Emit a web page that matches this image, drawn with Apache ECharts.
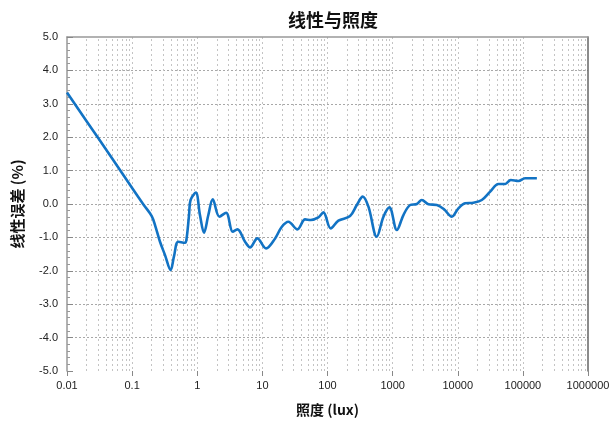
<!DOCTYPE html>
<html>
<head>
<meta charset="utf-8">
<script src="https://cdn.jsdelivr.net/npm/echarts@6/dist/echarts.min.js"></script>
<style>
  html, body { margin: 0; padding: 0; background: #fff; }
  #chart { width: 613px; height: 425px; }
</style>
</head>
<body>
<div id="chart"></div>
<script>
// Illuminance (lux) and the linearity error (%) measured at each level
const illuminance = [
  0.01, 0.02, 0.05, 0.1, 0.15, 0.2, 0.227, 0.268, 0.32, 0.39, 0.44, 0.51, 0.65,
  0.687, 0.748, 0.79, 0.95, 1.10, 1.27, 1.48, 1.73, 2.19, 2.77, 3.51, 4.13,
  5.42, 6.47, 8.37, 11.4, 15.7, 19.9, 25.1, 34.5, 45.3, 55.3, 72.4, 86.5,
  112, 147, 222, 282, 348, 425, 571, 723, 893, 1161, 1466, 1858, 2355, 2805,
  3548, 4775, 6100, 8110, 10230, 13000, 17400, 23400, 31500, 42200, 53500,
  65300, 85700, 108000, 164000
];
const linearityError = [
  3.34, 2.48, 1.35, 0.48, -0.02, -0.36, -0.66, -1.13, -1.53, -1.98, -1.56, -1.13, -1.16,
  -1.02, -0.33, 0.12, 0.34, -0.33, -0.86, -0.33, 0.14, -0.38, -0.26, -0.83, -0.76,
  -1.13, -1.30, -1.03, -1.33, -1.03, -0.68, -0.53, -0.76, -0.46, -0.48, -0.40, -0.25,
  -0.73, -0.50, -0.36, -0.03, 0.22, -0.08, -0.98, -0.38, -0.10, -0.78, -0.33, -0.03, 0.00, 0.12,
  -0.01, -0.03, -0.15, -0.38, -0.13, 0.02, 0.04, 0.12, 0.37, 0.60, 0.60,
  0.72, 0.69, 0.77, 0.77
];

// Axis ranges and tick labels
const xMin = 0.01, xMax = 1000000;
const yMin = -5, yMax = 5, yStep = 1;
const xTickLabels = ['0.01', '0.1', '1', '10', '100', '1000', '10000', '100000', '1000000'];

// Minor log grid positions: 2..9 times each decade
const minorGrid = [];
for (let e = -2; e < 6; e++) {
  for (let m = 2; m <= 9; m++) minorGrid.push(+(m * Math.pow(10, e)).toPrecision(6));
}

const FONT = '"Liberation Sans", Arial, sans-serif';
const CJK = '"Noto Sans CJK SC", "Liberation Sans", sans-serif';
const vGridLine = { color: '#c4c4c4', type: [2, 3], width: 1 };
const hGridLine = { color: '#a8a8a8', type: [2, 2], width: 1 };

const chart = echarts.init(document.getElementById('chart'), null, { renderer: 'canvas' });
chart.setOption({
  animation: false,
  backgroundColor: '#fff',
  title: {
    text: '线性与照度',
    left: 283, top: 6,
    textStyle: { fontFamily: CJK, fontSize: 18, fontWeight: 'bold', color: '#111' }
  },
  grid: { left: 67, right: 25, top: 37, bottom: 54 },
  xAxis: [{
    type: 'log', logBase: 10, min: xMin, max: xMax,
    name: '照度 (lux)', nameLocation: 'middle', nameGap: 32,
    nameTextStyle: { fontFamily: CJK, fontSize: 14, fontWeight: 'bold', color: '#111' },
    axisLine: { show: false, onZero: false },
    axisTick: { show: true, length: 5, lineStyle: { color: '#888' } },
    axisLabel: {
      margin: 9, fontFamily: FONT, fontSize: 11, color: '#222',
      formatter: v => {
        const e = Math.round(Math.log10(v));
        return xTickLabels[e + 2];
      }
    },
    splitLine: { show: true, showMinLine: false, showMaxLine: false, lineStyle: vGridLine }
  }, {
    type: 'log', logBase: 10, min: xMin, max: xMax, position: 'top',
    axisLine: { show: true, onZero: false, lineStyle: { color: '#999', width: 1.5 } },
    axisTick: { show: false }, axisLabel: { show: false }, splitLine: { show: false }
  }],
  yAxis: [{
    type: 'value', min: yMin, max: yMax, interval: yStep,
    name: '线性误差 (%)', nameLocation: 'middle', nameGap: 42,
    nameTextStyle: { fontFamily: CJK, fontSize: 15, fontWeight: 'bold', color: '#111' },
    axisLine: { show: true, onZero: false, lineStyle: { color: '#999', width: 1.5 } },
    axisTick: { show: true, inside: true, length: 6, lineStyle: { color: '#888' } },
    minorTick: { show: true, splitNumber: 5, length: 3, lineStyle: { color: '#999' } },
    axisLabel: {
      margin: 9, fontFamily: FONT, fontSize: 11, color: '#222',
      formatter: v => v.toFixed(1)
    },
    splitLine: { show: true, showMinLine: false, showMaxLine: false, lineStyle: hGridLine }
  }, {
    type: 'value', min: yMin, max: yMax, interval: yStep, position: 'right',
    axisLine: { show: true, onZero: false, lineStyle: { color: '#666', width: 1.5 } },
    axisTick: { show: false }, axisLabel: { show: false }, splitLine: { show: false }
  }],
  series: [{
    type: 'line',
    data: illuminance.map((x, i) => [x, linearityError[i]]),
    smooth: 0.35,
    showSymbol: false,
    lineStyle: { color: '#1273c4', width: 2.6 },
    z: 5,
    markLine: {
      silent: true, symbol: 'none', label: { show: false },
      lineStyle: vGridLine, animation: false,
      data: minorGrid.map(v => ({ xAxis: v }))
    }
  }]
});
</script>
</body>
</html>
